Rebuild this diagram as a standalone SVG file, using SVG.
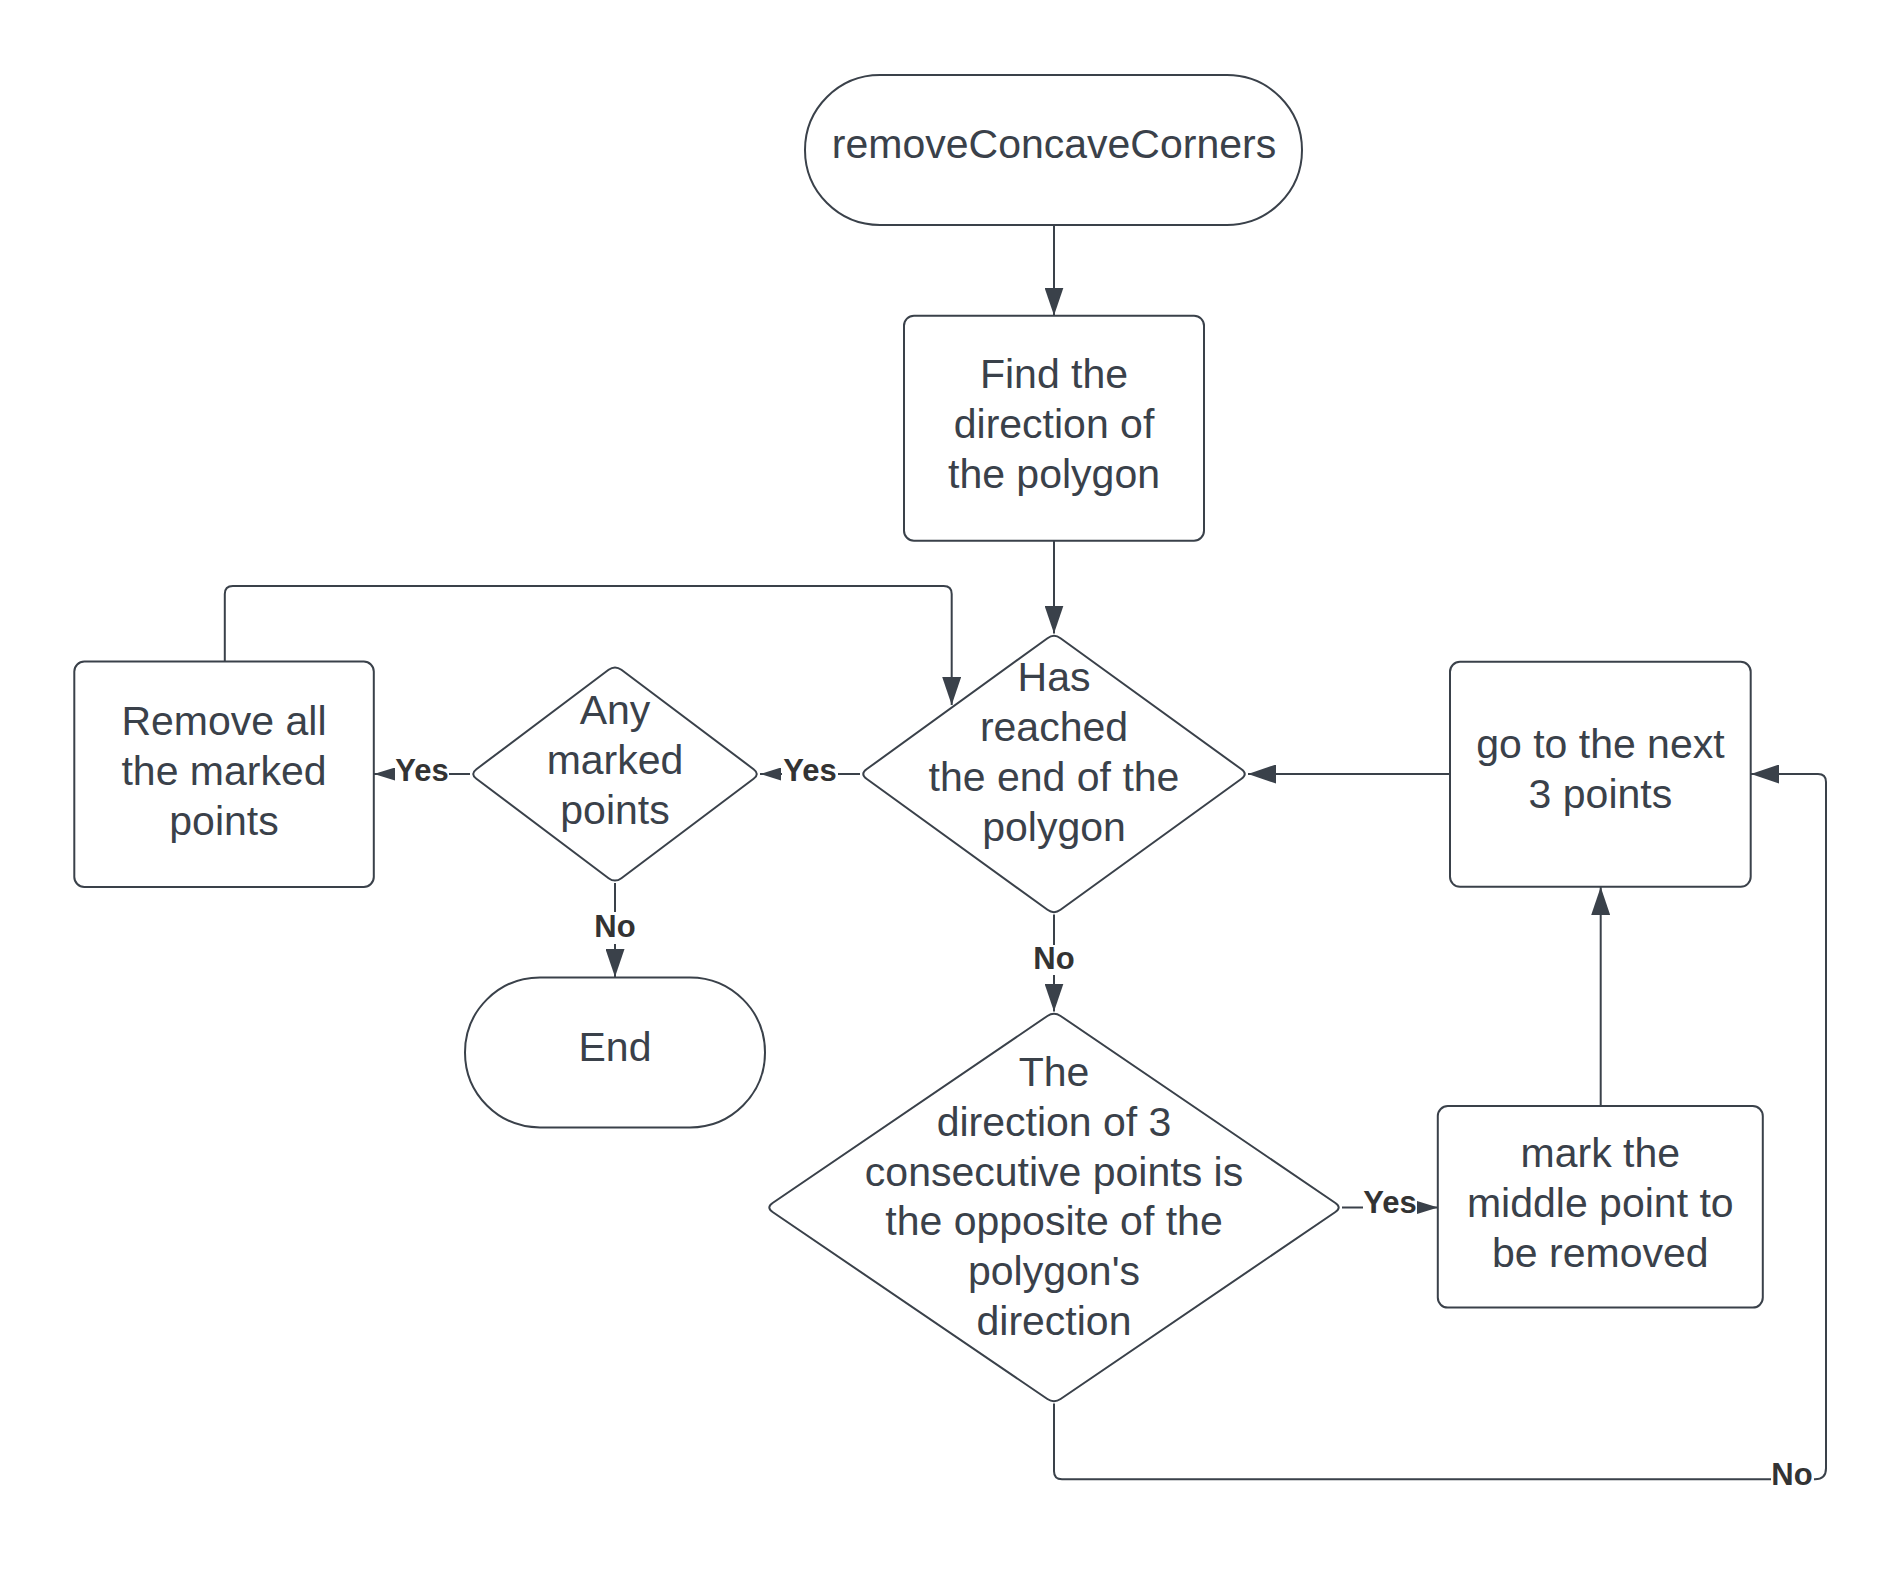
<svg xmlns="http://www.w3.org/2000/svg" width="1903" height="1573" viewBox="0 0 1903 1573">
<style>
.shape{fill:#ffffff;stroke:#3a414a;stroke-width:2}
.line{fill:none;stroke:#3a414a;stroke-width:2}
.t{font-family:"Liberation Sans",Arial,sans-serif;font-size:41px;fill:#3a414a;text-anchor:middle}
.lbl{font-family:"Liberation Sans",Arial,sans-serif;font-size:31px;font-weight:bold;fill:#333333;text-anchor:middle}
.bg{fill:#ffffff}
</style>
<defs>
<marker id="big" markerUnits="userSpaceOnUse" viewBox="0 0 28 19" refX="28" refY="9.5" markerWidth="28" markerHeight="19" orient="auto">
<path d="M0 0 L28 9.5 L0 19 Z" fill="#3a414a"/>
</marker>
<marker id="small" markerUnits="userSpaceOnUse" viewBox="0 0 21 13" refX="21" refY="6.5" markerWidth="21" markerHeight="13" orient="auto">
<path d="M0 0 L21 6.5 L0 13 Z" fill="#3a414a"/>
</marker>
</defs>
<rect width="1903" height="1573" fill="#ffffff"/>

<g id="connectors">
<path class="line" d="M1054 225 L1054 315.5" marker-end="url(#big)"/>
<path class="line" d="M1054 540.7 L1054 633.5" marker-end="url(#big)"/>
<path class="line" d="M1054 914.5 L1054 1011.5" marker-end="url(#big)"/>
<path class="line" d="M860 774 L760 774" marker-end="url(#small)"/>
<path class="line" d="M470 774 L374 774" marker-end="url(#small)"/>
<path class="line" d="M615 883 L615 977" marker-end="url(#big)"/>
<path class="line" d="M1342 1207.5 L1438 1207.5" marker-end="url(#small)"/>
<path class="line" d="M1450 774 L1248 774" marker-end="url(#big)"/>
<path class="line" d="M1600.7 1106 L1600.7 887" marker-end="url(#big)"/>
<path class="line" d="M224.8 661.5 L224.8 594 Q224.8 586 232.8 586 L943.7 586 Q951.7 586 951.7 594 L951.7 705" marker-end="url(#big)"/>
<path class="line" d="M1054 1403.5 L1054 1471.3 Q1054 1479.3 1062 1479.3 L1815 1479.3 Q1826 1479.3 1826 1468.3 L1826 782 Q1826 774 1818 774 L1751 774" marker-end="url(#big)"/>
<rect class="bg" x="1031" y="945" width="46" height="30"/>
<text class="lbl" x="1054" y="969">No</text>
<rect class="bg" x="592" y="912" width="46" height="32"/>
<text class="lbl" x="615" y="937">No</text>
<rect class="bg" x="782" y="756" width="56" height="30"/>
<text class="lbl" x="810" y="781">Yes</text>
<rect class="bg" x="395" y="756" width="54" height="30"/>
<text class="lbl" x="422" y="781">Yes</text>
<rect class="bg" x="1363" y="1189" width="54" height="30"/>
<text class="lbl" x="1390" y="1213">Yes</text>
<rect class="bg" x="1771" y="1462" width="43" height="28"/>
<text class="lbl" x="1792" y="1485">No</text>
</g>

<g id="start">
<rect class="shape" x="805" y="75" width="497" height="150" rx="75" ry="75"/>
<text class="t" x="1054" y="158">removeConcaveCorners</text>
</g>

<g id="find-direction">
<rect class="shape" x="904" y="315.7" width="300" height="225" rx="10" ry="10"/>
<text class="t" x="1054" y="388">Find the</text>
<text class="t" x="1054" y="438">direction of</text>
<text class="t" x="1054" y="488">the polygon</text>
</g>

<g id="reached-end">
<path class="shape" d="M1047.5 638.2 Q1054 633.5 1060.5 638.2 L1241.5 769.3 Q1248 774 1241.5 778.7 L1060.5 909.8 Q1054 914.5 1047.5 909.8 L866.5 778.7 Q860 774 866.5 769.3 Z"/>
<text class="t" x="1054" y="691">Has</text>
<text class="t" x="1054" y="741">reached</text>
<text class="t" x="1054" y="791">the end of the</text>
<text class="t" x="1054" y="841">polygon</text>
</g>

<g id="any-marked">
<path class="shape" d="M608.6 669.8 Q615 665 621.4 669.8 L753.6 769.2 Q760 774 753.6 778.8 L621.4 878.2 Q615 883 608.6 878.2 L476.4 778.8 Q470 774 476.4 769.2 Z"/>
<text class="t" x="615" y="724">Any</text>
<text class="t" x="615" y="774">marked</text>
<text class="t" x="615" y="824">points</text>
</g>

<g id="remove-marked">
<rect class="shape" x="74.3" y="661.5" width="299.5" height="225.5" rx="10" ry="10"/>
<text class="t" x="224" y="735">Remove all</text>
<text class="t" x="224" y="785">the marked</text>
<text class="t" x="224" y="835">points</text>
</g>

<g id="end">
<rect class="shape" x="465" y="977.4" width="300" height="150" rx="75" ry="75"/>
<text class="t" x="615" y="1060.7">End</text>
</g>

<g id="direction-check">
<path class="shape" d="M1047.4 1016 Q1054 1011.5 1060.6 1016 L1335.4 1203 Q1342 1207.5 1335.4 1212 L1060.6 1399 Q1054 1403.5 1047.4 1399 L772.6 1212 Q766 1207.5 772.6 1203 Z"/>
<text class="t" x="1054" y="1086">The</text>
<text class="t" x="1054" y="1135.8">direction of 3</text>
<text class="t" x="1054" y="1185.6">consecutive points is</text>
<text class="t" x="1054" y="1235.4">the opposite of the</text>
<text class="t" x="1054" y="1285.2">polygon's</text>
<text class="t" x="1054" y="1335">direction</text>
</g>

<g id="next-points">
<rect class="shape" x="1450" y="661.8" width="300.7" height="225" rx="10" ry="10"/>
<text class="t" x="1600.4" y="758">go to the next</text>
<text class="t" x="1600.4" y="807.5">3 points</text>
</g>

<g id="mark-middle">
<rect class="shape" x="1437.8" y="1106" width="325" height="201.6" rx="10" ry="10"/>
<text class="t" x="1600.3" y="1167">mark the</text>
<text class="t" x="1600.3" y="1217">middle point to</text>
<text class="t" x="1600.3" y="1267">be removed</text>
</g>
</svg>
